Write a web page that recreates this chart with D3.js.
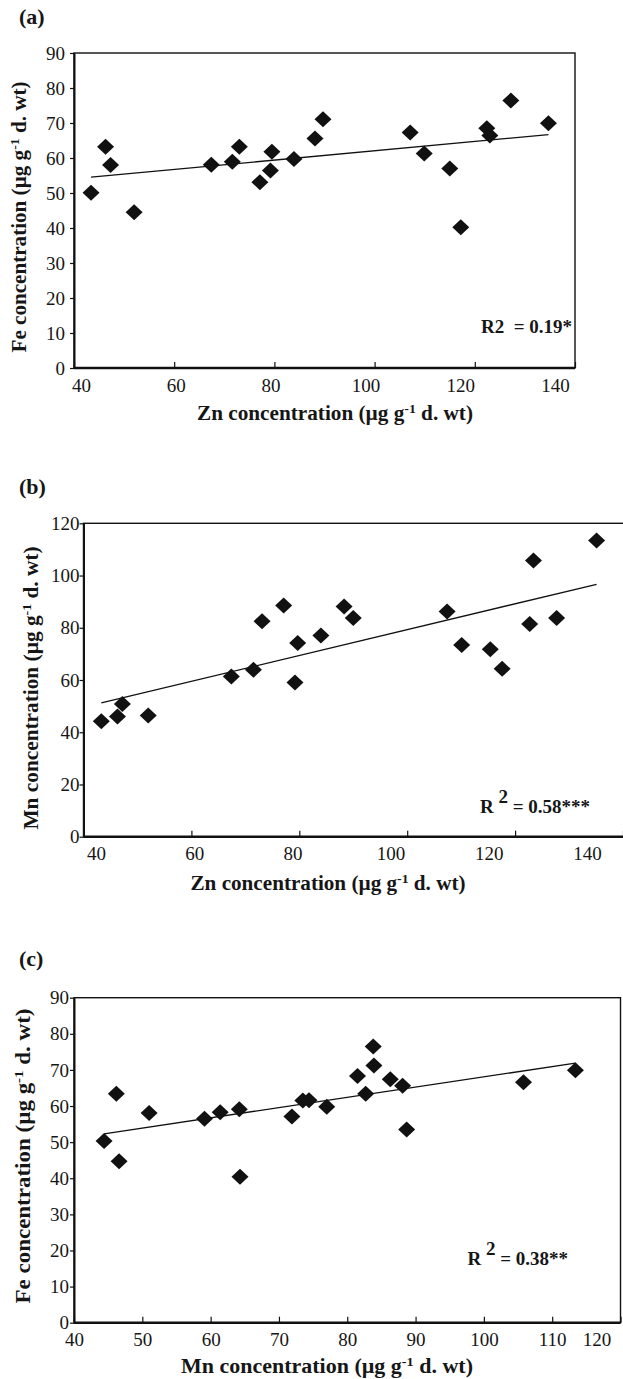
<!DOCTYPE html>
<html>
<head>
<meta charset="utf-8">
<script src="https://cdn.jsdelivr.net/npm/d3@7"></script>
<style>
  body { margin: 0; background: #fff; }
  svg { display: block; }
  text { font-family: "Liberation Serif", "Times New Roman", serif; fill: #161616; }
</style>
</head>
<body>
<div id="chart"></div>
<script>
// (a) Zn vs Fe
var aZn = [43.4, 46.3, 47.3, 52.0, 67.4, 71.6, 73.0, 77.1, 79.2, 79.5, 83.9, 88.1, 89.7, 107.1, 109.9, 115.0, 117.2, 122.4, 123.0, 127.2, 134.7];
var aFe = [50.1, 63.2, 58.0, 44.5, 58.1, 58.9, 63.2, 53.1, 56.4, 61.8, 59.7, 65.6, 71.1, 67.3, 61.3, 57.0, 40.2, 68.5, 66.4, 76.4, 69.9];
// (b) Zn vs Mn
var bZn = [43.3, 46.3, 47.2, 52.0, 67.4, 71.5, 73.1, 77.1, 79.2, 79.7, 84.0, 88.3, 90.0, 107.4, 110.1, 115.4, 117.6, 122.7, 123.4, 127.7, 135.1];
var bMn = [44.2, 46.0, 50.8, 46.4, 61.3, 63.9, 82.5, 88.5, 59.0, 74.2, 77.0, 88.1, 83.7, 86.2, 73.4, 71.8, 64.3, 81.4, 105.8, 83.7, 113.4];
// (c) Mn vs Fe
var cMn = [44.4, 46.2, 46.6, 51.0, 59.1, 61.4, 64.2, 64.3, 71.9, 73.5, 74.4, 77.0, 81.5, 82.7, 83.8, 83.9, 86.3, 88.1, 88.7, 105.8, 113.4];
var cFe = [50.3, 63.4, 44.7, 58.1, 56.5, 58.3, 59.1, 40.4, 57.1, 61.5, 61.6, 59.8, 68.3, 63.4, 76.5, 71.2, 67.4, 65.6, 53.5, 66.6, 69.9];

var znTicks = [40, 60, 80, 100, 120, 140];
var mnTicks = [40, 50, 60, 70, 80, 90, 100, 110, 120];
var feTicks = [0, 10, 20, 30, 40, 50, 60, 70, 80, 90];
var mnYTicks = [0, 20, 40, 60, 80, 100, 120];

var svg = d3.select("#chart").append("svg")
    .attr("width", 623)
    .attr("height", 1379);

function fit(xs, ys) {
    var mx = d3.mean(xs), my = d3.mean(ys);
    var sxy = d3.sum(xs, function(v, i) { return (v - mx) * (ys[i] - my); });
    var sxx = d3.sum(xs, function(v) { return (v - mx) * (v - mx); });
    var b = sxy / sxx;
    return function(v) { return my + b * (v - mx); };
}

function panel(p) {
    var g = svg.append("g");
    var x = d3.scaleLinear().domain(p.xDomain).range(p.xRange);
    var y = d3.scaleLinear().domain(p.yDomain).range(p.yRange);
    var labelX = p.labelRange ? d3.scaleLinear().domain(p.xDomain).range(p.labelRange) : x;

    g.append("text")
        .attr("x", 19).attr("y", p.tagY)
        .style("font-size", "22px").style("font-weight", "bold")
        .text(p.tag);

    g.append("rect")
        .attr("x", p.xRange[0]).attr("y", p.yRange[1])
        .attr("width", p.frameRight - p.xRange[0])
        .attr("height", p.yRange[0] - p.yRange[1])
        .attr("fill", "none").attr("stroke", "#111").attr("stroke-width", 1.4);

    var xt = g.append("g")
        .attr("transform", "translate(0," + p.yRange[0] + ")")
        .call(d3.axisBottom(x).tickValues(p.xTicks).tickSizeInner(-6).tickSizeOuter(0).tickFormat(""));
    xt.select(".domain").attr("stroke", "#111").attr("stroke-width", 2.6)
        .attr("d", "M" + p.xRange[0] + ",0H" + p.frameRight);
    xt.selectAll(".tick line").attr("stroke", "#111").attr("stroke-width", 1.2);

    var xl = g.append("g")
        .attr("transform", "translate(0," + p.yRange[0] + ")")
        .call(d3.axisBottom(labelX).tickValues(p.xTicks).tickSize(0).tickPadding(p.xPad));
    xl.select(".domain").remove();
    xl.selectAll("text").style("font-size", "19px").attr("fill", "#161616");
    if (p.lastShift) {
        xl.selectAll(".tick").filter(function(d) { return d === p.xDomain[1]; })
            .select("text").attr("dx", p.lastShift);
    }

    var yl = g.append("g")
        .attr("transform", "translate(" + p.xRange[0] + ",0)")
        .call(d3.axisLeft(y).tickValues(p.yTicks).tickSizeInner(4).tickSizeOuter(0).tickPadding(p.yPad));
    yl.select(".domain").attr("stroke", "#111").attr("stroke-width", 2);
    yl.selectAll(".tick line").attr("stroke", "#111").attr("stroke-width", 1.2);
    yl.selectAll("text").style("font-size", "19px").attr("fill", "#161616");

    var xTitle = g.append("text")
        .attr("x", p.xTitle[0]).attr("y", p.xTitle[1])
        .attr("text-anchor", "middle")
        .attr("textLength", p.xTitle[2]).attr("lengthAdjust", "spacingAndGlyphs")
        .style("font-size", "20px").style("font-weight", "bold");
    xTitle.append("tspan").text(p.xName + " concentration (\u00b5g g");
    xTitle.append("tspan").attr("dy", -7).style("font-size", "13px").text("-1");
    xTitle.append("tspan").attr("dy", 7).text(" d. wt)");

    var yTitle = g.append("text")
        .attr("transform", "translate(" + p.yTitle[0] + "," + p.yTitle[1] + ") rotate(-90)")
        .attr("text-anchor", "middle")
        .attr("textLength", p.yTitle[2]).attr("lengthAdjust", "spacingAndGlyphs")
        .style("font-size", "20px").style("font-weight", "bold");
    yTitle.append("tspan").text(p.yName + " concentration (\u00b5g g");
    yTitle.append("tspan").attr("dy", -7).style("font-size", "13px").text("-1");
    yTitle.append("tspan").attr("dy", 7).text(" d. wt)");

    var line = fit(p.xs, p.ys);
    var ext = d3.extent(p.xs);
    g.append("line")
        .attr("x1", x(ext[0])).attr("y1", y(line(ext[0])))
        .attr("x2", x(ext[1])).attr("y2", y(line(ext[1])))
        .attr("stroke", "#111").attr("stroke-width", 1.3);

    g.selectAll("path.pt")
        .data(p.xs.map(function(v, i) { return [v, p.ys[i]]; }))
        .enter().append("path")
        .attr("class", "pt")
        .attr("d", "M0,-8L8.5,0L0,8L-8.5,0Z")
        .attr("fill", "#111")
        .attr("transform", function(d) { return "translate(" + x(d[0]) + "," + y(d[1]) + ")"; });

    var r = g.append("text")
        .attr("x", p.r2[0]).attr("y", p.r2[1])
        .attr("text-anchor", "end")
        .style("font-size", "19px").style("font-weight", "bold");
    if (p.sup) {
        r.append("tspan").text("R ");
        r.append("tspan").attr("dy", -10).text("2");
        r.append("tspan").attr("dy", 10).text(" = " + p.r2Text);
    } else {
        r.append("tspan").attr("xml:space", "preserve").text("R2  = " + p.r2Text);
    }
}

panel({
    tag: "(a)", tagY: 24,
    xs: aZn, ys: aFe,
    xDomain: [40, 140], xRange: [74, 575], frameRight: 575,
    yDomain: [0, 90], yRange: [368, 53],
    xTicks: znTicks, yTicks: feTicks,
    labelRange: [81, 555],
    xPad: 11, yPad: 5,
    xName: "Zn", yName: "Fe",
    xTitle: [335, 420, 276], yTitle: [26, 217, 271],
    r2: [572, 333], r2Text: "0.19*", sup: false
});

panel({
    tag: "(b)", tagY: 494,
    xs: bZn, ys: bMn,
    xDomain: [40, 140], xRange: [83.5, 623], frameRight: 625,
    yDomain: [0, 120], yRange: [836.7, 523.3],
    xTicks: znTicks, yTicks: mnYTicks,
    labelRange: [96, 587],
    xPad: 10, yPad: 0,
    xName: "Zn", yName: "Mn",
    xTitle: [328, 890, 275], yTitle: [38, 688, 283],
    r2: [590, 813], r2Text: "0.58***", sup: true
});

panel({
    tag: "(c)", tagY: 966,
    xs: cMn, ys: cFe,
    xDomain: [40, 120], xRange: [74, 620.5], frameRight: 620.5,
    yDomain: [0, 90], yRange: [1322.7, 997.7],
    xTicks: mnTicks, yTicks: feTicks,
    lastShift: -24,
    xPad: 10, yPad: 1,
    xName: "Mn", yName: "Fe",
    xTitle: [327, 1373, 292], yTitle: [30, 1156, 295],
    r2: [568, 1265], r2Text: "0.38**", sup: true
});
</script>
</body>
</html>
